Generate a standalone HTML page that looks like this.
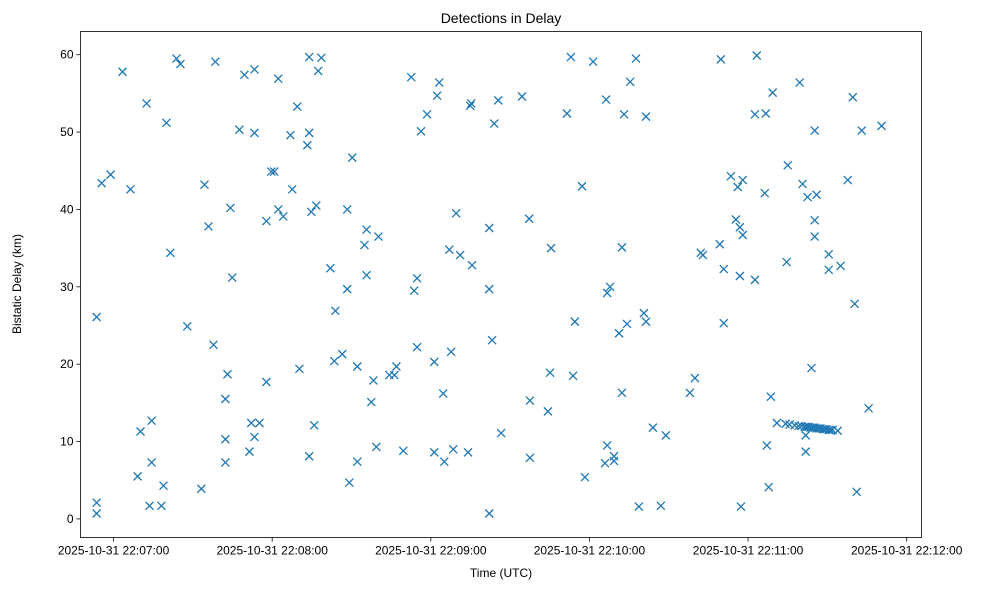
<!DOCTYPE html>
<html><head><meta charset="utf-8"><style>
body{margin:0;background:#fff;}
svg{display:block;font-family:"Liberation Sans","DejaVu Sans",sans-serif;}
</style></head><body>
<svg id="chart" width="988" height="590" xmlns="http://www.w3.org/2000/svg">
<rect width="988" height="590" fill="#fff"/>
<text x="501" y="23" font-size="14" text-anchor="middle">Detections in Delay</text>
<text x="501" y="577" font-size="12" text-anchor="middle">Time (UTC)</text>
<text transform="translate(21,284) rotate(-90)" font-size="12" text-anchor="middle">Bistatic Delay (km)</text>
<g id="marks"></g>
<g id="axes"></g>
<rect x="80.5" y="31.5" width="841" height="506" fill="none" stroke="#000" stroke-width="0.8"/>
</svg>
<script>
// seconds relative to 22:07:00 UTC
const timesSec = [-6.4,-6.4,-6.4,-4.5,-1.1,3.4,6.4,9.1,10.2,12.5,13.6,14.4,14.4,18.1,18.9,20.0,21.5,23.8,25.3,27.9,33.2,34.4,35.9,37.8,38.5,42.3,42.3,42.3,43.1,44.2,44.9,47.6,49.5,51.4,52.1,53.3,53.3,53.3,55.2,57.8,57.8,59.7,60.8,62.3,62.3,64.2,66.9,67.6,69.5,70.3,73.3,74.0,74.0,74.0,74.8,75.9,76.7,77.4,78.6,82.0,83.9,83.5,86.5,88.4,88.4,89.2,90.3,92.2,92.2,94.9,95.7,95.7,97.5,98.3,99.4,100.2,104.3,106.2,107.0,109.6,112.6,113.7,114.8,114.8,116.3,118.6,121.3,121.3,122.4,123.2,124.7,125.1,127.0,127.7,128.5,129.6,131.1,134.1,135.3,135.6,134.9,142.1,142.1,142.1,143.2,144.0,145.5,146.6,154.5,157.2,157.5,157.5,164.3,165.1,165.5,171.5,173.0,173.8,174.5,177.2,178.3,181.4,185.9,186.3,186.7,186.7,187.8,189.3,189.3,191.2,192.3,192.3,193.1,194.2,195.4,197.6,198.7,200.6,201.4,201.4,204.0,207.0,208.9,218.0,219.9,222.1,222.9,229.7,229.3,230.8,230.8,233.5,235.4,236.1,236.9,236.9,237.3,238.0,238.0,242.6,242.6,243.3,246.7,246.3,247.1,247.8,248.6,249.3,250.9,254.2,255.7,257.6,259.1,260.2,261.4,262.1,262.9,263.6,264.4,265.2,265.9,266.7,267.4,268.2,268.9,269.7,270.5,271.2,272.0,273.9,254.6,255.0,259.5,260.6,261.8,261.8,262.5,264.0,265.2,265.2,265.2,265.9,270.5,270.5,275.0,277.7,279.6,280.3,281.1,283.0,285.6,290.5];
const delayKm = [26.1,2.1,0.7,43.4,44.5,57.8,42.6,5.5,11.3,53.7,1.7,12.7,7.3,1.7,4.3,51.2,34.4,59.5,58.8,24.9,3.9,43.2,37.8,22.5,59.1,15.5,10.3,7.3,18.7,40.2,31.2,50.3,57.4,8.7,12.4,58.1,49.9,10.6,12.4,17.7,38.5,44.9,44.9,56.9,40.0,39.1,49.6,42.6,53.3,19.4,48.3,59.7,49.9,8.1,39.7,12.1,40.5,57.9,59.6,32.4,26.9,20.4,21.3,40.0,29.7,4.7,46.7,19.7,7.4,35.4,37.4,31.5,15.1,17.9,9.3,36.5,18.6,18.6,19.7,8.8,57.1,29.5,31.1,22.2,50.1,52.3,20.3,8.6,54.7,56.4,16.2,7.4,34.8,21.6,9.0,39.5,34.1,8.6,53.7,32.8,53.4,37.6,29.7,0.7,23.1,51.1,54.1,11.1,54.6,38.8,15.3,7.9,13.9,18.9,35.0,52.4,59.7,18.5,25.5,43.0,5.4,59.1,7.2,54.2,29.2,9.5,30.0,8.1,7.5,24.0,35.1,16.3,52.3,25.2,56.5,59.5,1.6,26.6,25.5,52.0,11.8,1.7,10.8,16.3,18.2,34.4,34.1,59.4,35.5,32.3,25.3,44.3,38.7,42.9,37.7,31.4,1.6,36.7,43.8,52.3,30.9,59.9,52.4,42.1,9.5,4.1,15.8,55.1,12.4,12.3,12.2,12.1,12.0,12.0,11.9,11.9,11.9,11.8,11.8,11.8,11.7,11.7,11.7,11.6,11.6,11.6,11.5,11.5,11.5,11.4,33.2,45.7,56.4,43.3,10.8,8.7,41.6,19.5,50.2,38.6,36.5,41.9,34.2,32.2,32.7,43.8,54.5,27.8,3.5,50.2,14.3,50.8];
const xTickSec = [0,60,120,180,240,300];
const xTickLabels = ["2025-10-31 22:07:00","2025-10-31 22:08:00","2025-10-31 22:09:00","2025-10-31 22:10:00","2025-10-31 22:11:00","2025-10-31 22:12:00"];
const yTicks = [0,10,20,30,40,50,60];

const NS="http://www.w3.org/2000/svg";
const X0=80.5,X1=921.5,Y0=31.5,Y1=537.5;
const xMin=-12.5,xMax=305.6,yMin=-2.4,yMax=63.0;
function xs(v){return X0+(v-xMin)/(xMax-xMin)*(X1-X0);}
function ys(v){return Y1-(v-yMin)/(yMax-yMin)*(Y1-Y0);}
function mk(tag,attrs,parent){const e=document.createElementNS(NS,tag);for(const k in attrs)e.setAttribute(k,attrs[k]);parent.appendChild(e);return e;}
const marks=document.getElementById('marks');
for(let i=0;i<timesSec.length;i++){
  const cx=xs(timesSec[i]),cy=ys(delayKm[i]),r=4;
  const p=mk('path',{d:`M${cx-r},${cy-r}L${cx+r},${cy+r}M${cx-r},${cy+r}L${cx+r},${cy-r}`,stroke:'#1f77b4','stroke-width':1.3,fill:'none'},marks);
  
  
}
const axes=document.getElementById('axes');
xTickSec.forEach((s,i)=>{
  const x=xs(s);
  const t=mk('line',{x1:x,x2:x,y1:Y1,y2:Y1+4,stroke:'#000','stroke-width':0.8},axes);
  
  
  const l=mk('text',{x:x,y:Y1+17,'font-size':12,'text-anchor':'middle'},axes);
  l.textContent=xTickLabels[i];
  
  
});
yTicks.forEach(v=>{
  const y=ys(v);
  const t=mk('line',{x1:X0-4,x2:X0,y1:y,y2:y,stroke:'#000','stroke-width':0.8},axes);
  
  
  const l=mk('text',{x:X0-7,y:y+4,'font-size':12,'text-anchor':'end'},axes);
  l.textContent=v;
  
  
});
</script>
</body></html>
